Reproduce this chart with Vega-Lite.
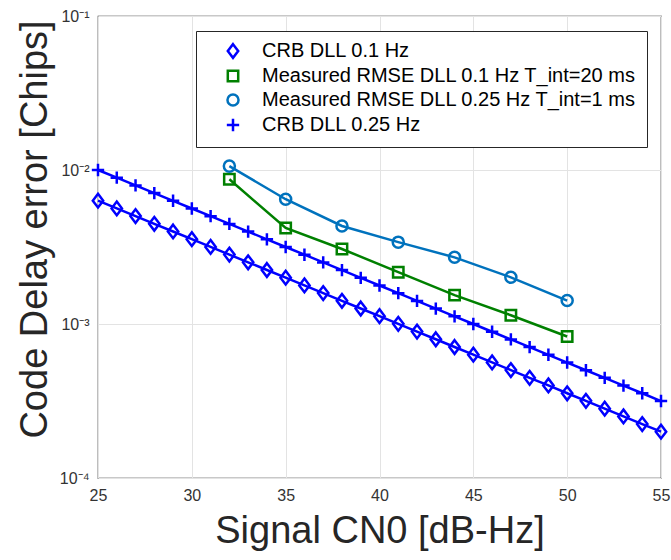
{
  "$schema": "https://vega.github.io/schema/vega-lite/v6.json",
  "width": 563,
  "height": 462,
  "autosize": "none",
  "padding": {"left": 98, "top": 16, "right": 10, "bottom": 82},
  "background": "white",
  "config": {
    "view": {"stroke": "#262626", "strokeWidth": 1.2},
    "axis": {
      "domain": false,
      "ticks": false,
      "grid": true,
      "gridColor": "#e3e3e3",
      "labelFont": "Liberation Sans",
      "labelFontSize": 16,
      "labelColor": "#333333",
      "labelFlush": false,
      "titleFont": "Liberation Sans",
      "titleFontSize": 38,
      "titleFontWeight": "normal",
      "titleColor": "#262626"
    }
  },
  "data": {
    "values": [
      {"cn0": 25, "err": 0.00632, "series": "CRB DLL 0.1 Hz"},
      {"cn0": 26, "err": 0.005633, "series": "CRB DLL 0.1 Hz"},
      {"cn0": 27, "err": 0.00502, "series": "CRB DLL 0.1 Hz"},
      {"cn0": 28, "err": 0.004474, "series": "CRB DLL 0.1 Hz"},
      {"cn0": 29, "err": 0.003988, "series": "CRB DLL 0.1 Hz"},
      {"cn0": 30, "err": 0.003554, "series": "CRB DLL 0.1 Hz"},
      {"cn0": 31, "err": 0.003167, "series": "CRB DLL 0.1 Hz"},
      {"cn0": 32, "err": 0.002823, "series": "CRB DLL 0.1 Hz"},
      {"cn0": 33, "err": 0.002516, "series": "CRB DLL 0.1 Hz"},
      {"cn0": 34, "err": 0.002242, "series": "CRB DLL 0.1 Hz"},
      {"cn0": 35, "err": 0.001999, "series": "CRB DLL 0.1 Hz"},
      {"cn0": 36, "err": 0.001781, "series": "CRB DLL 0.1 Hz"},
      {"cn0": 37, "err": 0.001587, "series": "CRB DLL 0.1 Hz"},
      {"cn0": 38, "err": 0.001415, "series": "CRB DLL 0.1 Hz"},
      {"cn0": 39, "err": 0.001261, "series": "CRB DLL 0.1 Hz"},
      {"cn0": 40, "err": 0.001124, "series": "CRB DLL 0.1 Hz"},
      {"cn0": 41, "err": 0.001002, "series": "CRB DLL 0.1 Hz"},
      {"cn0": 42, "err": 0.000893, "series": "CRB DLL 0.1 Hz"},
      {"cn0": 43, "err": 0.000796, "series": "CRB DLL 0.1 Hz"},
      {"cn0": 44, "err": 0.000709, "series": "CRB DLL 0.1 Hz"},
      {"cn0": 45, "err": 0.000632, "series": "CRB DLL 0.1 Hz"},
      {"cn0": 46, "err": 0.000563, "series": "CRB DLL 0.1 Hz"},
      {"cn0": 47, "err": 0.000502, "series": "CRB DLL 0.1 Hz"},
      {"cn0": 48, "err": 0.000447, "series": "CRB DLL 0.1 Hz"},
      {"cn0": 49, "err": 0.000399, "series": "CRB DLL 0.1 Hz"},
      {"cn0": 50, "err": 0.000355, "series": "CRB DLL 0.1 Hz"},
      {"cn0": 51, "err": 0.000317, "series": "CRB DLL 0.1 Hz"},
      {"cn0": 52, "err": 0.000282, "series": "CRB DLL 0.1 Hz"},
      {"cn0": 53, "err": 0.000251, "series": "CRB DLL 0.1 Hz"},
      {"cn0": 54, "err": 0.000224, "series": "CRB DLL 0.1 Hz"},
      {"cn0": 55, "err": 0.0002, "series": "CRB DLL 0.1 Hz"},
      {"cn0": 25, "err": 0.01, "series": "CRB DLL 0.25 Hz"},
      {"cn0": 26, "err": 0.008913, "series": "CRB DLL 0.25 Hz"},
      {"cn0": 27, "err": 0.007943, "series": "CRB DLL 0.25 Hz"},
      {"cn0": 28, "err": 0.007079, "series": "CRB DLL 0.25 Hz"},
      {"cn0": 29, "err": 0.00631, "series": "CRB DLL 0.25 Hz"},
      {"cn0": 30, "err": 0.005623, "series": "CRB DLL 0.25 Hz"},
      {"cn0": 31, "err": 0.005012, "series": "CRB DLL 0.25 Hz"},
      {"cn0": 32, "err": 0.004467, "series": "CRB DLL 0.25 Hz"},
      {"cn0": 33, "err": 0.003981, "series": "CRB DLL 0.25 Hz"},
      {"cn0": 34, "err": 0.003548, "series": "CRB DLL 0.25 Hz"},
      {"cn0": 35, "err": 0.003162, "series": "CRB DLL 0.25 Hz"},
      {"cn0": 36, "err": 0.002818, "series": "CRB DLL 0.25 Hz"},
      {"cn0": 37, "err": 0.002512, "series": "CRB DLL 0.25 Hz"},
      {"cn0": 38, "err": 0.002239, "series": "CRB DLL 0.25 Hz"},
      {"cn0": 39, "err": 0.001995, "series": "CRB DLL 0.25 Hz"},
      {"cn0": 40, "err": 0.001778, "series": "CRB DLL 0.25 Hz"},
      {"cn0": 41, "err": 0.001585, "series": "CRB DLL 0.25 Hz"},
      {"cn0": 42, "err": 0.001413, "series": "CRB DLL 0.25 Hz"},
      {"cn0": 43, "err": 0.001259, "series": "CRB DLL 0.25 Hz"},
      {"cn0": 44, "err": 0.001122, "series": "CRB DLL 0.25 Hz"},
      {"cn0": 45, "err": 0.001, "series": "CRB DLL 0.25 Hz"},
      {"cn0": 46, "err": 0.000891, "series": "CRB DLL 0.25 Hz"},
      {"cn0": 47, "err": 0.000794, "series": "CRB DLL 0.25 Hz"},
      {"cn0": 48, "err": 0.000708, "series": "CRB DLL 0.25 Hz"},
      {"cn0": 49, "err": 0.000631, "series": "CRB DLL 0.25 Hz"},
      {"cn0": 50, "err": 0.000562, "series": "CRB DLL 0.25 Hz"},
      {"cn0": 51, "err": 0.000501, "series": "CRB DLL 0.25 Hz"},
      {"cn0": 52, "err": 0.000447, "series": "CRB DLL 0.25 Hz"},
      {"cn0": 53, "err": 0.000398, "series": "CRB DLL 0.25 Hz"},
      {"cn0": 54, "err": 0.000355, "series": "CRB DLL 0.25 Hz"},
      {"cn0": 55, "err": 0.000316, "series": "CRB DLL 0.25 Hz"},
      {"cn0": 32, "err": 0.0087, "series": "Measured RMSE DLL 0.1 Hz T_int=20 ms"},
      {"cn0": 35, "err": 0.0042, "series": "Measured RMSE DLL 0.1 Hz T_int=20 ms"},
      {"cn0": 38, "err": 0.00307, "series": "Measured RMSE DLL 0.1 Hz T_int=20 ms"},
      {"cn0": 41, "err": 0.00217, "series": "Measured RMSE DLL 0.1 Hz T_int=20 ms"},
      {"cn0": 44, "err": 0.00154, "series": "Measured RMSE DLL 0.1 Hz T_int=20 ms"},
      {"cn0": 47, "err": 0.00114, "series": "Measured RMSE DLL 0.1 Hz T_int=20 ms"},
      {"cn0": 50, "err": 0.00083, "series": "Measured RMSE DLL 0.1 Hz T_int=20 ms"},
      {"cn0": 32, "err": 0.0106, "series": "Measured RMSE DLL 0.25 Hz T_int=1 ms"},
      {"cn0": 35, "err": 0.00646, "series": "Measured RMSE DLL 0.25 Hz T_int=1 ms"},
      {"cn0": 38, "err": 0.00433, "series": "Measured RMSE DLL 0.25 Hz T_int=1 ms"},
      {"cn0": 41, "err": 0.0034, "series": "Measured RMSE DLL 0.25 Hz T_int=1 ms"},
      {"cn0": 44, "err": 0.00271, "series": "Measured RMSE DLL 0.25 Hz T_int=1 ms"},
      {"cn0": 47, "err": 0.00201, "series": "Measured RMSE DLL 0.25 Hz T_int=1 ms"},
      {"cn0": 50, "err": 0.00142, "series": "Measured RMSE DLL 0.25 Hz T_int=1 ms"}
    ]
  },
  "encoding": {
    "x": {
      "field": "cn0",
      "type": "quantitative",
      "scale": {"domain": [25, 55], "nice": false, "zero": false},
      "axis": {"values": [25, 30, 35, 40, 45, 50, 55], "title": "Signal CN0 [dB-Hz]", "labelPadding": 9, "titleY": 64, "titleBaseline": "alphabetic"}
    },
    "y": {
      "field": "err",
      "type": "quantitative",
      "scale": {"type": "log", "domain": [0.0001, 0.1], "nice": false},
      "axis": {
        "values": [0.0001, 0.001, 0.01, 0.1],
        "labelExpr": "'10' + (datum.value >= 0.09 ? '⁻¹' : datum.value >= 0.009 ? '⁻²' : datum.value >= 0.0009 ? '⁻³' : '⁻⁴')",
        "labelPadding": 9,
        "title": "Code Delay error [Chips]", "titleX": -63, "titleY": 213, "titleBaseline": "middle", "titleAlign": "center", "titleAngle": -90}
    },
    "color": {
      "field": "series",
      "type": "nominal",
      "scale": {
        "domain": ["CRB DLL 0.1 Hz", "Measured RMSE DLL 0.1 Hz T_int=20 ms", "Measured RMSE DLL 0.25 Hz T_int=1 ms", "CRB DLL 0.25 Hz"],
        "range": ["#0000ff", "#008000", "#0072bd", "#0000ff"]
      },
      "legend": {
        "title": null,
        "orient": "none",
        "legendX": 98,
        "legendY": 15,
        "fillColor": "white",
        "strokeColor": "#262626",
        "padding": 10,
        "symbolSize": 169,
        "symbolStrokeWidth": 2.5,
        "symbolOffset": 17,
        "labelOffset": 19,
        "rowPadding": 2,
        "labelLimit": 600,
        "labelFont": "Liberation Sans",
        "labelFontSize": 20,
        "labelColor": "#000000"
      }
    }
  },
  "layer": [
    {"mark": {"type": "line", "strokeWidth": 2.5}},
    {
      "mark": {"type": "point", "filled": false, "strokeWidth": 2.5, "size": 169, "opacity": 1},
      "encoding": {
        "shape": {
          "field": "series",
          "type": "nominal",
          "scale": {
            "domain": ["CRB DLL 0.1 Hz", "Measured RMSE DLL 0.1 Hz T_int=20 ms", "Measured RMSE DLL 0.25 Hz T_int=1 ms", "CRB DLL 0.25 Hz"],
            "range": ["M0,-1.05L0.8,0L0,1.05L-0.8,0Z", "M-0.8,-0.8H0.8V0.8H-0.8Z", "M0.85,0A0.85,0.85 0 1,1 -0.85,0A0.85,0.85 0 1,1 0.85,0Z", "M-0.95,0H0.95M0,-0.95V0.95"]
          },
          "legend": null
        }
      }
    }
  ]
}
